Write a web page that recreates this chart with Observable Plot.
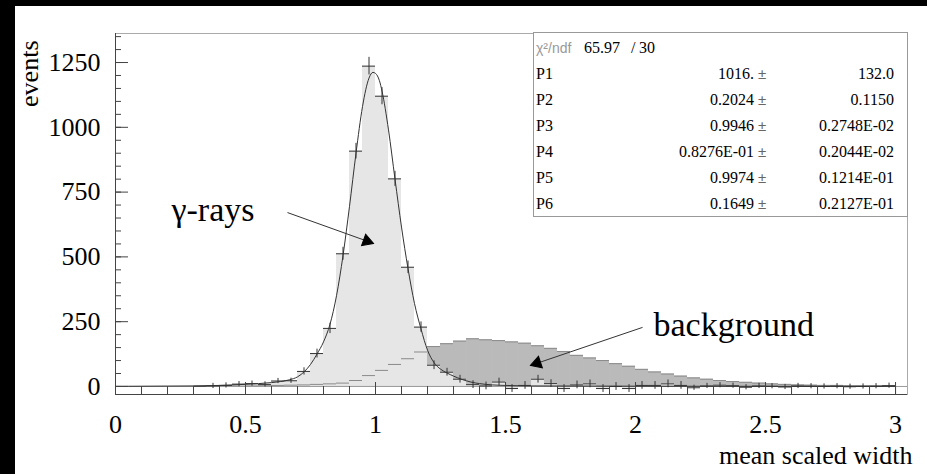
<!DOCTYPE html>
<html><head><meta charset="utf-8">
<script src="https://cdn.jsdelivr.net/npm/d3@7"></script>
<script src="https://cdn.jsdelivr.net/npm/@observablehq/plot@0.6"></script>
<style>
html,body{margin:0;padding:0;background:#000;width:927px;height:474px;overflow:hidden;}
#page{position:absolute;left:15px;top:6px;width:912px;height:468px;background:#fff;}
#page svg{position:absolute;left:0;top:0;}
#stats{position:absolute;left:518px;top:26px;width:375px;height:185px;box-sizing:border-box;border:1px solid #999;background:#fff;font-family:"Liberation Serif";font-size:16px;color:#000;}
.row{position:absolute;left:0;right:0;height:26px;line-height:26px;white-space:nowrap;}
.lab{position:absolute;left:2px;}
.val{position:absolute;right:153px;}
.pm{position:absolute;left:224px;font-family:"Liberation Sans";color:#666;font-size:15px;}
.err{position:absolute;right:13px;}
.chi{font-family:"Liberation Sans";color:#999;font-size:14px;}
</style>
</head><body>
<div id="page"><div id="stats"></div></div>
<script>
// ---- data ----
const binCenters = [0.025,0.075,0.125,0.175,0.225,0.275,0.325,0.375,0.425,0.475,0.525,0.575,0.625,0.675,0.725,0.775,0.825,0.875,0.925,0.975,1.025,1.075,1.125,1.175,1.225,1.275,1.325,1.375,1.425,1.475,1.525,1.575,1.625,1.675,1.725,1.775,1.825,1.875,1.925,1.975,2.025,2.075,2.125,2.175,2.225,2.275,2.325,2.375,2.425,2.475,2.525,2.575,2.625,2.675,2.725,2.775,2.825,2.875,2.925,2.975];
const binWidth = 0.05;
const gammaCounts = [0,0,0,0,0,0,1,2,4,9,11,8,21,22,58,127,224,512,908,1236,1120,801,460,229,82,55,28,7,2,17,-8,4,28,11,-8,6,10,-8,0,-8,4,4,10,4,-5,2,5,3,-3,2,1,-2,2,1,0,1,-1,0,1,3];
const gammaErrors = [0,0,0,0,0,0,0,10,10,10,10,10,10,10,14,17,20,25,30,34,33,29,24,20,17,15,15,15,15,15,15,15,15,15,15,15,15,15,15,15,15,15,15,15,10,10,10,10,10,10,10,10,10,10,10,10,10,10,10,10];
const backgroundCounts = [0,0,0,0,0,0,0,1,1,1,2,3,4,5,6,8,10,13,23,42,62,85,107,133,154,165,175,184,180,177,172,167,157,147,135,120,110,100,88,78,66,56,48,40,33,28,23,19,16,13,10,8,6,5,4,4,3,3,2,2];
const fitX = [0,0.1,0.2,0.3,0.4,0.475,0.55,0.6,0.635,0.67,0.7,0.727,0.75,0.775,0.8,0.825,0.85,0.875,0.9,0.925,0.95,0.975,0.99,1.0,1.015,1.025,1.05,1.075,1.1,1.125,1.15,1.175,1.2,1.225,1.25,1.275,1.3,1.333,1.367,1.4,1.45,1.5,1.6,1.8,2.0,2.5,3.0];
const fitY = [0.5,1,1.5,2,4,7,11,15,19,26,37,58,85,125,172,240,350,505,695,900,1080,1190,1212,1208,1180,1140,990,800,615,455,320,222,140,92,67,52,40,27,17,11,6,4,2,1.5,1,0.5,0.3];
const xMajorTicks = [0,0.5,1,1.5,2,2.5,3];
const xMinorTicks = [0,0.1,0.2,0.3,0.4,0.5,0.6,0.7,0.8,0.9,1,1.1,1.2,1.3,1.4,1.5,1.6,1.7,1.8,1.9,2,2.1,2.2,2.3,2.4,2.5,2.6,2.7,2.8,2.9,3];
const yMajorTicks = [0,250,500,750,1000,1250];
const yMinorTicks = [0,50,100,150,200,250,300,350,400,450,500,550,600,650,700,750,800,850,900,950,1000,1050,1100,1150,1200,1250,1300,1350];
const xDomain = [0, 3.046];
const yDomain = [-31, 1362];
const labelTexts = ["γ-rays", "background"];
const labelX = [0.2154, 2.069];
const labelY = [637, 193];
const arrowX1 = [0.6615, 2.027];
const arrowY1 = [671, 228];
const arrowX2 = [0.9923, 1.596];
const arrowY2 = [552, 81];
const headX = [0.9669, 1.6215];
const headY = [561, 90];
const headAngle = [109.8, 251.3];
const statNames = ["P1","P2","P3","P4","P5","P6"];
const statValues = ["1016.","0.2024","0.9946","0.8276E-01","0.9974","0.1649"];
const statErrors = ["132.0","0.1150","0.2748E-02","0.2044E-02","0.1214E-01","0.2127E-01"];
const chi2 = "65.97", ndf = "30";

// ---- build ----
const bins = binCenters.map((c, i) => ({
  x1: c - binWidth / 2, x2: c + binWidth / 2, c,
  g: gammaCounts[i], e: gammaErrors[i], b: backgroundCounts[i]
}));
const fit = fitX.map((x, i) => ({x, y: fitY[i]}));
const labels = labelTexts.map((t, i) => ({t, x: labelX[i], y: labelY[i]}));
const arrows = arrowX1.map((x1, i) => ({x1, y1: arrowY1[i], x2: arrowX2[i], y2: arrowY2[i], hx: headX[i], hy: headY[i], a: headAngle[i]}));

const W = 912, H = 468, mL = 100, mR = 20, mT = 27, mB = 80;
const plotW = W - mL - mR, plotH = H - mT - mB;
const axisColor = "#444";

const chart = Plot.plot({
  width: W, height: H,
  marginLeft: mL, marginRight: mR, marginTop: mT, marginBottom: mB,
  x: {domain: xDomain},
  y: {domain: yDomain},
  style: {fontFamily: "Liberation Serif", fontSize: "26px", background: "white", color: "#000", overflow: "visible"},
  marks: [
    Plot.frame({stroke: "#aaa"}),
    Plot.rectY(bins, {x1: "x1", x2: "x2", y1: 0, y2: "b", fill: "#bababa"}),
    Plot.rectY(bins, {x1: "x1", x2: "x2", y1: 0, y2: "g", fill: "#e6e6e6"}),
    Plot.ruleY(bins.filter(d => d.b > 0), {x1: "x1", x2: "x2", y: "b", stroke: "#8a8a8a", strokeWidth: 1}),
    Plot.ruleY([0], {stroke: "#999"}),
    Plot.ruleY(bins.filter(d => d.c > 0.3), {x1: "x1", x2: "x2", y: "g", stroke: "#333", strokeWidth: 1}),
    Plot.ruleX(bins.filter(d => d.e > 0), {x: "c", y1: d => d.g - d.e, y2: d => d.g + d.e, stroke: "#333", strokeWidth: 1}),
    Plot.line(fit, {x: "x", y: "y", stroke: "#333", strokeWidth: 1, curve: "monotone-x"}),
    Plot.link(arrows, {x1: "x1", y1: "y1", x2: "x2", y2: "y2", stroke: "#333", strokeWidth: 1}),
    Plot.dot(arrows, {x: "hx", y: "hy", symbol: "triangle", r: 4.5, fill: "#000", stroke: "#000", strokeWidth: 1, rotate: "a"}),
    Plot.text(labels, {x: "x", y: "y", text: "t", textAnchor: "start", lineAnchor: "bottom", fontSize: 34, fill: "#000"}),
    // axes lines
    Plot.ruleX([xDomain[0]], {stroke: axisColor}),
    Plot.ruleY([yDomain[0]], {stroke: axisColor}),
    // ticks (inward)
    Plot.tickX(xMinorTicks, {x: d => d, insetTop: plotH - 8, stroke: axisColor}),
    Plot.tickX(xMajorTicks, {x: d => d, insetTop: plotH - 12, stroke: axisColor}),
    Plot.tickY(yMinorTicks, {y: d => d, insetRight: plotW - 6, stroke: axisColor}),
    Plot.tickY(yMajorTicks, {y: d => d, insetRight: plotW - 13, stroke: axisColor}),
    Plot.axisX({ticks: xMajorTicks, tickSize: 0, tickPadding: 20, tickFormat: d => String(d), label: null}),
    Plot.axisY({ticks: yMajorTicks, tickSize: 0, tickPadding: 15, tickFormat: d3.format("d"), label: null}),
    Plot.text(["events"], {frameAnchor: "top-left", text: d => d, rotate: -90, textAnchor: "end", lineAnchor: "bottom", dx: -78, dy: 7}),
    Plot.text(["mean scaled width"], {frameAnchor: "bottom-right", text: d => d, textAnchor: "end", lineAnchor: "bottom", dx: 5, dy: 69})
  ]
});
const page = document.getElementById("page");
page.insertBefore(chart, page.firstChild);

// stats box
const stats = document.getElementById("stats");
let html = `<div class="row" style="top:2px"><span class="lab chi">χ²/ndf</span><span style="position:absolute;left:50px">${chi2}</span><span style="position:absolute;left:97px">/</span><span style="position:absolute;left:105px">${ndf}</span></div>`;
statNames.forEach((n, i) => {
  html += `<div class="row" style="top:${28 + 26 * i}px"><span class="lab">${n}</span><span class="val">${statValues[i]}</span><span class="pm">±</span><span class="err">${statErrors[i]}</span></div>`;
});
stats.innerHTML = html;
</script>
</body></html>
